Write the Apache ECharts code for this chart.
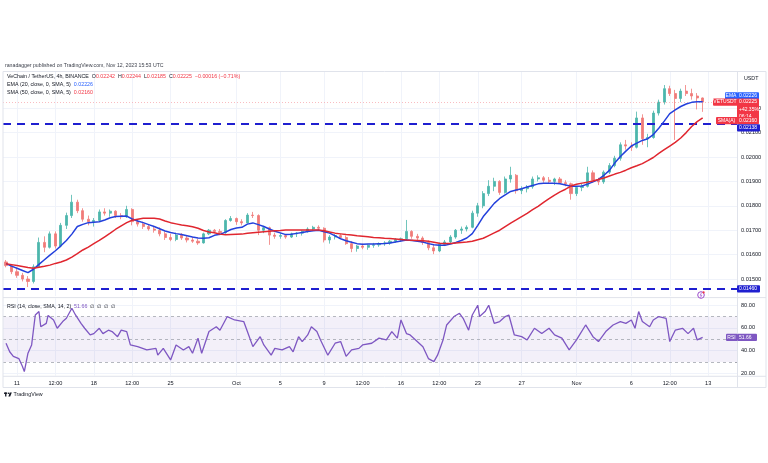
<!DOCTYPE html>
<html><head><meta charset="utf-8">
<script src="https://cdn.jsdelivr.net/npm/echarts@6/dist/echarts.min.js"></script>
<style>html,body{margin:0;padding:0;background:#fff}#c{width:768px;height:463px}</style>
</head><body><div id="c"></div>
<script>
// ---------- DATA ----------
const candleStart = '2023-09-10T00:00:00Z';   // first 12h candle
const candleHours = 12;
// [open, high, low, close]
const ohlc = [
[0.01570,0.01578,0.01548,0.01555],[0.01555,0.01562,0.01520,0.01530],[0.01530,0.01545,0.01505,0.01515],[0.01515,0.01525,0.01490,0.01500],
[0.01500,0.01512,0.01467,0.01490],[0.01490,0.01560,0.01482,0.01550],[0.01550,0.01670,0.01545,0.01650],[0.01650,0.01675,0.01610,0.01630],
[0.01630,0.01695,0.01625,0.01685],[0.01685,0.01695,0.01625,0.01635],[0.01635,0.01730,0.01630,0.01720],[0.01720,0.01772,0.01705,0.01760],
[0.01760,0.01845,0.01750,0.01815],[0.01815,0.01825,0.01770,0.01780],[0.01780,0.01790,0.01735,0.01745],[0.01745,0.01760,0.01720,0.01735],
[0.01735,0.01750,0.01715,0.01740],[0.01740,0.01785,0.01735,0.01775],[0.01775,0.01790,0.01760,0.01770],[0.01770,0.01785,0.01755,0.01778],
[0.01778,0.01782,0.01750,0.01760],[0.01760,0.01770,0.01745,0.01755],[0.01755,0.01800,0.01750,0.01785],[0.01785,0.01790,0.01720,0.01735],
[0.01735,0.01745,0.01715,0.01725],[0.01725,0.01735,0.01705,0.01715],[0.01715,0.01725,0.01698,0.01705],[0.01705,0.01718,0.01690,0.01700],
[0.01700,0.01712,0.01675,0.01685],[0.01685,0.01695,0.01660,0.01670],[0.01670,0.01685,0.01655,0.01662],[0.01662,0.01690,0.01655,0.01680],
[0.01680,0.01688,0.01660,0.01668],[0.01668,0.01680,0.01650,0.01660],[0.01660,0.01672,0.01648,0.01655],[0.01655,0.01665,0.01640,0.01648],
[0.01648,0.01690,0.01645,0.01685],[0.01685,0.01705,0.01680,0.01700],[0.01700,0.01705,0.01688,0.01695],[0.01695,0.01705,0.01680,0.01690],
[0.01690,0.01745,0.01685,0.01740],[0.01740,0.01758,0.01735,0.01748],[0.01748,0.01752,0.01722,0.01735],[0.01735,0.01745,0.01720,0.01730],
[0.01730,0.01770,0.01728,0.01762],[0.01762,0.01775,0.01750,0.01760],[0.01760,0.01765,0.01680,0.01700],[0.01700,0.01718,0.01688,0.01710],
[0.01710,0.01715,0.01640,0.01680],[0.01680,0.01690,0.01665,0.01675],[0.01675,0.01688,0.01665,0.01678],[0.01678,0.01685,0.01665,0.01672],
[0.01672,0.01690,0.01668,0.01685],[0.01685,0.01692,0.01672,0.01688],[0.01688,0.01700,0.01678,0.01695],[0.01695,0.01712,0.01690,0.01705],
[0.01705,0.01718,0.01698,0.01712],[0.01712,0.01720,0.01700,0.01708],[0.01708,0.01712,0.01650,0.01660],[0.01660,0.01680,0.01645,0.01672],
[0.01672,0.01685,0.01662,0.01678],[0.01678,0.01685,0.01665,0.01670],[0.01670,0.01678,0.01640,0.01645],[0.01645,0.01655,0.01610,0.01625],
[0.01625,0.01640,0.01612,0.01635],[0.01635,0.01645,0.01622,0.01630],[0.01630,0.01642,0.01620,0.01638],[0.01638,0.01648,0.01628,0.01640],
[0.01640,0.01650,0.01632,0.01645],[0.01645,0.01655,0.01636,0.01648],[0.01648,0.01660,0.01640,0.01655],[0.01655,0.01668,0.01648,0.01662],
[0.01662,0.01670,0.01652,0.01665],[0.01665,0.01742,0.01660,0.01695],[0.01695,0.01700,0.01665,0.01675],[0.01675,0.01685,0.01660,0.01668],
[0.01668,0.01675,0.01640,0.01650],[0.01650,0.01658,0.01618,0.01628],[0.01628,0.01640,0.01602,0.01615],[0.01615,0.01650,0.01610,0.01642],
[0.01642,0.01660,0.01635,0.01652],[0.01652,0.01680,0.01645,0.01672],[0.01672,0.01705,0.01665,0.01700],[0.01700,0.01715,0.01685,0.01705],
[0.01705,0.01720,0.01695,0.01712],[0.01712,0.01780,0.01708,0.01770],[0.01770,0.01812,0.01755,0.01800],[0.01800,0.01860,0.01790,0.01850],
[0.01850,0.01905,0.01840,0.01880],[0.01880,0.01915,0.01860,0.01900],[0.01900,0.01905,0.01845,0.01855],[0.01855,0.01920,0.01850,0.01910],
[0.01910,0.01960,0.01895,0.01925],[0.01925,0.01930,0.01850,0.01862],[0.01862,0.01880,0.01848,0.01870],[0.01870,0.01885,0.01855,0.01878],
[0.01878,0.01920,0.01870,0.01910],[0.01910,0.01925,0.01900,0.01915],[0.01915,0.01922,0.01895,0.01905],[0.01905,0.01918,0.01892,0.01900],
[0.01900,0.01915,0.01885,0.01910],[0.01910,0.01918,0.01890,0.01895],[0.01895,0.01905,0.01880,0.01890],[0.01890,0.01895,0.01825,0.01850],
[0.01850,0.01880,0.01840,0.01875],[0.01875,0.01890,0.01860,0.01880],[0.01880,0.01960,0.01875,0.01935],[0.01935,0.01945,0.01895,0.01905],
[0.01905,0.01915,0.01885,0.01898],[0.01898,0.01945,0.01890,0.01938],[0.01938,0.01975,0.01930,0.01965],[0.01965,0.02005,0.01958,0.01995],
[0.01995,0.02060,0.01985,0.02050],[0.02050,0.02070,0.02030,0.02045],[0.02045,0.02060,0.02025,0.02040],[0.02040,0.02186,0.02035,0.02160],
[0.02160,0.02175,0.02050,0.02075],[0.02075,0.02095,0.02040,0.02080],[0.02080,0.02190,0.02075,0.02180],[0.02180,0.02235,0.02170,0.02225],
[0.02225,0.02295,0.02215,0.02280],[0.02280,0.02292,0.02250,0.02260],[0.02260,0.02275,0.02070,0.02240],[0.02240,0.02280,0.02225,0.02270],
[0.02270,0.02295,0.02250,0.02260],[0.02260,0.02280,0.02235,0.02250],[0.02250,0.02262,0.02195,0.02242],[0.02242,0.02244,0.02185,0.02225]
];
const ema20 = [
0.01563,0.01553,0.01544,0.01535,0.01526,0.01540,0.01560,0.01579,0.01598,0.01616,0.01636,0.01658,0.01684,0.01715,0.01724,0.01731,
0.01733,0.01735,0.01742,0.01751,0.01756,0.01757,0.01758,0.01746,0.01738,0.01731,0.01723,0.01715,0.01706,0.01697,0.01691,0.01686,
0.01682,0.01677,0.01672,0.01668,0.01667,0.01669,0.01679,0.01683,0.01692,0.01703,0.01709,0.01712,0.01725,0.01730,0.01723,0.01715,
0.01705,0.01696,0.01689,0.01682,0.01683,0.01687,0.01691,0.01695,0.01698,0.01700,0.01694,0.01688,0.01677,0.01665,0.01657,0.01651,
0.01645,0.01642,0.01643,0.01644,0.01645,0.01646,0.01648,0.01652,0.01656,0.01660,0.01658,0.01655,0.01652,0.01645,0.01640,0.01638,
0.01638,0.01643,0.01650,0.01658,0.01668,0.01686,0.01720,0.01756,0.01783,0.01810,0.01830,0.01845,0.01859,0.01865,0.01870,0.01877,
0.01883,0.01890,0.01892,0.01892,0.01892,0.01890,0.01885,0.01880,0.01880,0.01881,0.01889,0.01898,0.01908,0.01925,0.01945,0.01976,
0.02002,0.02024,0.02045,0.02057,0.02068,0.02075,0.02092,0.02118,0.02147,0.02178,0.02193,0.02207,0.02217,0.02224,0.02226,0.02226
];
const sma50 = [
0.01563,0.01559,0.01555,0.01551,0.01547,0.01544,0.01548,0.01552,0.01557,0.01564,0.01570,0.01578,0.01590,0.01604,0.01619,0.01631,
0.01645,0.01658,0.01673,0.01688,0.01704,0.01718,0.01731,0.01741,0.01745,0.01749,0.01749,0.01749,0.01746,0.01738,0.01731,0.01726,
0.01721,0.01718,0.01714,0.01708,0.01699,0.01693,0.01690,0.01684,0.01681,0.01682,0.01683,0.01684,0.01688,0.01690,0.01692,0.01694,
0.01696,0.01698,0.01699,0.01701,0.01701,0.01701,0.01701,0.01701,0.01701,0.01701,0.01698,0.01693,0.01688,0.01685,0.01682,0.01680,
0.01677,0.01675,0.01673,0.01670,0.01669,0.01667,0.01666,0.01664,0.01662,0.01660,0.01659,0.01658,0.01657,0.01655,0.01651,0.01647,
0.01646,0.01646,0.01648,0.01650,0.01652,0.01655,0.01661,0.01667,0.01678,0.01689,0.01700,0.01715,0.01729,0.01742,0.01756,0.01769,
0.01784,0.01798,0.01814,0.01829,0.01844,0.01857,0.01868,0.01881,0.01888,0.01893,0.01897,0.01902,0.01908,0.01914,0.01922,0.01930,
0.01937,0.01946,0.01956,0.01964,0.01973,0.01985,0.01998,0.02015,0.02030,0.02045,0.02060,0.02078,0.02100,0.02125,0.02145,0.02160
];
// RSI: 4h bar number counted from 2023-09-11 00:00 UTC, and value
const rsiOrigin = '2023-09-11T00:00:00Z';
const rsiBars = [-6,-4,-2,1,3,4,6,8,10,12,13,16,17,20,22,25,27,30,32,35,37,40,42,45,47,50,52,55,57,60,
62,66,71,76,77,80,84,87,91,94,96,99,101,105,109,111,115,119,124,126,129,133,135,139,141,145,149,151,154,156,
159,161,164,166,170,174,177,180,183,187,189,194,198,202,205,208,210,213,215,218,222,225,228,230,233,235,239,242,244,247,
249,252,253,256,258,261,264,267,269,272,276,279,283,287,291,294,298,302,306,311,315,318,322,326,330,333,336,338,340,342,
346,348,351,355,357,360,364,367,370,372,375];
const rsiValues = [46.5,39,35,33,26,21.5,37.7,45,71.4,74.4,61,64,71,67,59.7,65.6,68.5,77.3,71.4,64,
59.7,53.8,55,59.7,55,58,56.8,52.3,58,56.8,45,43.5,40.6,42,36,42,31.8,45,40.6,43.5,
37.7,51,37.7,56.8,61,58,70,67,65.6,56.8,43.5,52.3,45,36,42,40.6,43.5,39,52.3,48,
53.8,61,56.8,49.4,36,46.5,48,35,40.6,42,45,46.5,51,49.4,56.8,51,67,55,53.8,49.4,
43.5,33,30.3,36,49.4,62.6,70,72.9,68.5,58,71.4,80,70,74.4,80,64,65.6,70,71.4,53.8,
52.3,49.4,59.7,55,59.7,53.8,51,40.6,49.4,62.6,52.3,48,56.8,62.6,65.6,64,67,59.7,74.4,65.6,
61,67,70,68.5,48,58,59.7,55,59.7,49.4,51.66];
const supportLevels = [0.02138, 0.01460];
const lastPrice = 0.02225;
const xTickDates = ['2023-09-11T00:00:00Z','2023-09-14T12:00:00Z','2023-09-18T00:00:00Z','2023-09-21T12:00:00Z','2023-09-25T00:00:00Z',
'2023-10-01T00:00:00Z','2023-10-05T00:00:00Z','2023-10-09T00:00:00Z','2023-10-12T12:00:00Z','2023-10-16T00:00:00Z','2023-10-19T12:00:00Z',
'2023-10-23T00:00:00Z','2023-10-27T00:00:00Z','2023-11-01T00:00:00Z','2023-11-06T00:00:00Z','2023-11-09T12:00:00Z','2023-11-13T00:00:00Z'];
const xTickLabels = ['11','12:00','18','12:00','25','Oct','5','9','12:00','16','12:00','23','27','Nov','6','12:00','13'];
const priceTicks = [0.015,0.016,0.017,0.018,0.019,0.020,0.021,0.022];
const rsiTicks = [20,40,60,80];
const rsiLevels = [70,50,30];

// ---------- BUILD ----------
const HOUR = 3600000, DAY = 24*HOUR;
const t0 = Date.parse(candleStart);
const candleTimes = ohlc.map((_, i) => t0 + i*candleHours*HOUR);
const rsiT0 = Date.parse(rsiOrigin);
const xTickMs = xTickDates.map(d => Date.parse(d));
const tickMap = new Map(xTickMs.map((t, i) => [t, xTickLabels[i]]));
const xMin = Date.parse('2023-09-11T00:00:00Z') - 1.276*DAY;
const xMax = Date.parse('2023-11-13T00:00:00Z') + 2.63*DAY;

const FONT = '"Liberation Sans", Arial, sans-serif';
const UP = '#4db6ac', DOWN = '#f07b79';
const BLUE = '#2340dc', RED = '#e0262f', LVL = '#1f1fd0', PURPLE = '#7e57c2';
const GRIDC = '#f0f3fa';

const chart = echarts.init(document.getElementById('c'), null, {renderer:'canvas'});
const option = {
  animation:false,
  backgroundColor:'#ffffff',
  grid:[{left:3,right:31,top:71.6,height:224.5},{left:3,right:31,top:298.4,height:77.2}],
  xAxis:[
    {type:'value',gridIndex:0,min:xMin,max:xMax,axisLine:{show:false},
     axisTick:{show:false,customValues:xTickMs},axisLabel:{show:false},
     splitLine:{show:true,lineStyle:{color:GRIDC,width:1}}},
    {type:'value',gridIndex:1,min:xMin,max:xMax,axisLine:{show:false},
     axisTick:{show:false,customValues:xTickMs},
     axisLabel:{show:true,customValues:xTickMs,formatter:v => tickMap.get(v) || '',
       fontSize:5.6,color:'#131722',margin:5,fontFamily:FONT},
     splitLine:{show:true,lineStyle:{color:GRIDC,width:1}}}
  ],
  yAxis:[
    {type:'value',gridIndex:0,position:'right',min:0.0143,max:0.0235,axisLine:{show:false},
     axisTick:{show:false,customValues:priceTicks},
     axisLabel:{customValues:priceTicks,formatter:v => v.toFixed(5),fontSize:5.6,color:'#131722',margin:4,fontFamily:FONT},
     splitLine:{show:true,lineStyle:{color:GRIDC,width:1}}},
    {type:'value',gridIndex:1,position:'right',min:18,max:86,axisLine:{show:false},
     axisTick:{show:false,customValues:rsiTicks},
     axisLabel:{customValues:rsiTicks,formatter:v => v.toFixed(2),fontSize:5.6,color:'#131722',margin:4,fontFamily:FONT},
     splitLine:{show:true,lineStyle:{color:GRIDC,width:1}}}
  ],
  series:[
    {type:'candlestick',xAxisIndex:0,yAxisIndex:0,barWidth:2.6,
     encode:{x:0,y:[1,2,3,4]},
     data: ohlc.map((d,i) => [candleTimes[i], d[0], d[3], d[2], d[1]]),
     itemStyle:{color:UP,color0:DOWN,borderColor:UP,borderColor0:DOWN,borderWidth:0.8}
    },
    {type:'line',name:'EMA',xAxisIndex:0,yAxisIndex:0,showSymbol:false,z:5,
     data: ema20.map((v,i) => [candleTimes[i], v]),lineStyle:{color:BLUE,width:1.5}},
    {type:'line',name:'SMA',xAxisIndex:0,yAxisIndex:0,showSymbol:false,z:5,
     data: sma50.map((v,i) => [candleTimes[i], v]),lineStyle:{color:RED,width:1.5},
     markLine:{symbol:'none',silent:true,animation:false,precision:6,label:{show:false},
       data:[
         {yAxis:supportLevels[0],lineStyle:{color:LVL,type:[8,6],width:2}},
         {yAxis:supportLevels[1],lineStyle:{color:LVL,type:[8,6],width:2}},
         {yAxis:lastPrice,lineStyle:{color:'#f7a1a6',type:[1,2],width:0.7}}
       ]}},
    {type:'line',name:'RSI',xAxisIndex:1,yAxisIndex:1,showSymbol:false,z:5,
     data: rsiBars.map((b,j) => [rsiT0 + b*4*HOUR, rsiValues[j]]),
     lineStyle:{color:PURPLE,width:1.3},
     markArea:{silent:true,itemStyle:{color:'rgba(126,87,194,0.09)'},data:[[{yAxis:rsiLevels[2]},{yAxis:rsiLevels[0]}]]},
     markLine:{symbol:'none',silent:true,label:{show:false},
       lineStyle:{color:'#a3a6af',type:[3,3],width:0.8},
       data: rsiLevels.map(v => ({yAxis:v}))}
    }
  ]
};
chart.setOption(option);

// ---------- ANNOTATIONS (positions from the axes) ----------
const py = v => chart.convertToPixel({yAxisIndex:0}, v);
const ry = v => chart.convertToPixel({yAxisIndex:1}, v);
const AX = 737;
const g = [];
function txt(x, y, text, extra) {
  g.push(Object.assign({type:'text', x, y, z:100,
    style:Object.assign({text, fontSize:5.3, fontFamily:FONT, fill:'#131722', verticalAlign:'middle'}, extra || {})}));
}
function tag(yc, name, nameX, lines, bg, valW) {
  const h = 7.2;
  if (name) {
    g.push({type:'rect', z:100, shape:{x:nameX, y:yc-h/2, width:AX-nameX, height:h, r:[1,0,0,1]}, style:{fill:bg}});
    txt((nameX+AX)/2, yc, name, {fill:'#fff', align:'center', fontSize:5});
  }
  g.push({type:'rect', z:100, shape:{x:AX, y:yc-h/2, width:valW||22, height:h*lines.length, r:1}, style:{fill:bg}});
  lines.forEach((l, k) => txt(AX+2, yc + k*h, l, {fill:'#fff', fontSize:5}));
}
// frame lines
const FR = '#e0e3eb';
[[3,71.5,766,71.5],[3,297.6,766,297.6],[3,376.3,766,376.3],[3,387.5,766,387.5]].forEach(s =>
  g.push({type:'line', z:90, shape:{x1:s[0],y1:s[1],x2:s[2],y2:s[3]}, style:{stroke:FR,lineWidth:1}}));
[[3,71.5,3,387.5],[737.5,71.5,737.5,387.5],[766,71.5,766,387.5]].forEach(s =>
  g.push({type:'line', z:90, shape:{x1:s[0],y1:s[1],x2:s[2],y2:s[3]}, style:{stroke:FR,lineWidth:1}}));

// header
txt(5, 65.5, 'ranadagger published on TradingView.com, Nov 12, 2023 15:53 UTC', {fontSize:5.2, fill:'#3b3f4a'});
const last = ohlc[ohlc.length-1];
g.push({type:'text', x:7, y:77, z:100, style:{
  text:'{k|VeChain / TetherUS, 4h, BINANCE}  {k|O}{r|' + last[0].toFixed(5) + '}  {k|H}{r|' + last[1].toFixed(5) +
       '}  {k|L}{r|' + last[2].toFixed(5) + '}  {k|C}{r|' + last[3].toFixed(5) + '}  {r|\u22120.00016 (\u22120.71%)}',
  verticalAlign:'middle', fontFamily:FONT, fontSize:5.3,
  rich:{k:{fill:'#131722',fontSize:5.3,fontFamily:FONT}, r:{fill:'#f23645',fontSize:5.3,fontFamily:FONT}}}});
g.push({type:'text', x:7, y:85, z:100, style:{
  text:'{k|EMA (20, close, 0, SMA, 5)}  {b|' + ema20[ema20.length-1].toFixed(5) + '}',
  verticalAlign:'middle', fontFamily:FONT, fontSize:5.3,
  rich:{k:{fill:'#131722',fontSize:5.3,fontFamily:FONT}, b:{fill:'#2962ff',fontSize:5.3,fontFamily:FONT}}}});
g.push({type:'text', x:7, y:92.5, z:100, style:{
  text:'{k|SMA (50, close, 0, SMA, 5)}  {r|' + sma50[sma50.length-1].toFixed(5) + '}',
  verticalAlign:'middle', fontFamily:FONT, fontSize:5.3,
  rich:{k:{fill:'#131722',fontSize:5.3,fontFamily:FONT}, r:{fill:'#f23645',fontSize:5.3,fontFamily:FONT}}}});
g.push({type:'text', x:7, y:307, z:100, style:{
  text:'{k|RSI (14, close, SMA, 14, 2)}  {p|' + rsiValues[rsiValues.length-1].toFixed(2) + '}  {k|\u2205  \u2205  \u2205  \u2205}',
  verticalAlign:'middle', fontFamily:FONT, fontSize:5.3,
  rich:{k:{fill:'#131722',fontSize:5.3,fontFamily:FONT}, p:{fill:PURPLE,fontSize:5.3,fontFamily:FONT}}}});
txt(744, 78.5, 'USDT', {fontSize:5.3});

// right-side tags
tag(py(ema20[ema20.length-1]) - 6, 'EMA', 725, [ema20[ema20.length-1].toFixed(5)], '#2962ff');
tag(py(lastPrice), 'VETUSDT', 713, [lastPrice.toFixed(5), '+42.35%', '06:14'], '#f23645');
tag(py(sma50[sma50.length-1]) + 2.7, 'SMA(A)', 716, [sma50[sma50.length-1].toFixed(5)], '#f23645');
tag(py(supportLevels[0]) + 4.5, null, 0, [supportLevels[0].toFixed(5)], LVL, 23);
tag(py(supportLevels[1]), null, 0, [supportLevels[1].toFixed(5)], LVL, 23);
tag(ry(rsiValues[rsiValues.length-1]), 'RSI', 726, [rsiValues[rsiValues.length-1].toFixed(2)], PURPLE, 20);

// small alert icon near the bottom of the price pane
g.push({type:'circle', z:100, shape:{cx:701, cy:295, r:3.3}, style:{fill:'#fff', stroke:'#9c4dcc', lineWidth:1}});
g.push({type:'polyline', z:101, shape:{points:[[701.6,292.6],[700.2,295.3],[701.8,295.3],[700.4,297.6]]}, style:{stroke:'#9c4dcc', lineWidth:0.7, fill:null}});
g.push({type:'circle', z:102, shape:{cx:703.6, cy:292.4, r:1.1}, style:{fill:'#f23645'}});

// TradingView mark
g.push({type:'rect', z:100, shape:{x:4, y:392.5, width:3.2, height:1.4}, style:{fill:'#131722'}});
g.push({type:'rect', z:100, shape:{x:5.1, y:392.5, width:1.3, height:4}, style:{fill:'#131722'}});
g.push({type:'circle', z:100, shape:{cx:8.6, cy:393.3, r:0.8}, style:{fill:'#131722'}});
g.push({type:'polygon', z:100, shape:{points:[[9.8,392.5],[11.8,392.5],[10.2,396.5],[8.4,396.5]]}, style:{fill:'#131722'}});
txt(13.5, 394.6, 'TradingView', {fontSize:5.3, fill:'#131722'});

chart.setOption({graphic:{elements:g}});
</script>
</body></html>
